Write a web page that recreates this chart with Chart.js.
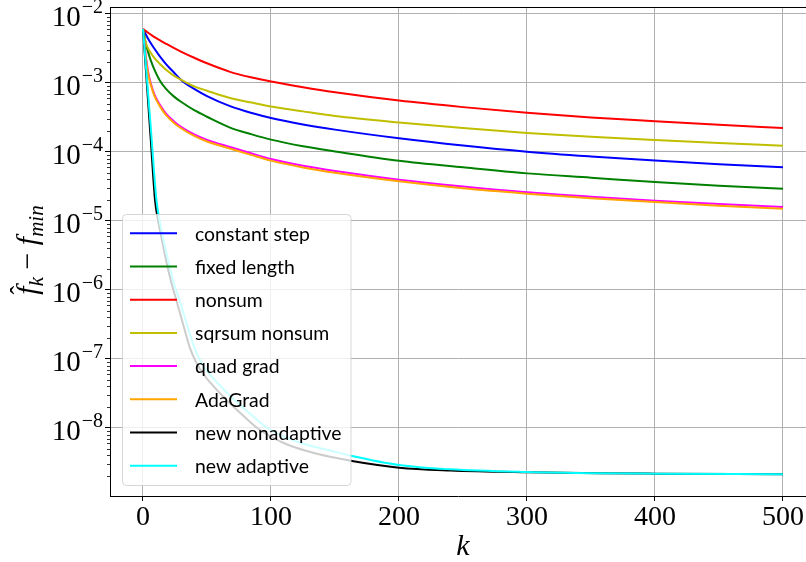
<!DOCTYPE html>
<html><head><meta charset="utf-8">
<script src="https://cdn.jsdelivr.net/npm/chart.js@4.4.0/dist/chart.umd.min.js"></script>
<style>html,body{margin:0;padding:0;background:#fff;}#wrap{width:806px;height:562px;}</style>
</head><body><div id="wrap"><canvas id="c" width="806" height="562"></canvas></div>
<script>
// ---- data ----
const kSlow = [0,2,4,6,9,13,18,24,30,40,50,68,85,100,125,150,200,250,300,350,400,450,500];
const constantStep = [6.07e-3,5.13e-3,4.39e-3,3.8e-3,3.13e-3,2.45e-3,1.88e-3,1.43e-3,1.1e-3,8.22e-4,6.46e-4,4.62e-4,3.67e-4,3.11e-4,2.51e-4,2.11e-4,1.58e-4,1.24e-4,1.01e-4,8.61e-5,7.5e-5,6.65e-5,6.0e-5];
const fixedLength = [6.07e-3,3.89e-3,2.8e-3,2.15e-3,1.55e-3,1.1e-3,8.2e-4,6.4e-4,5.3e-4,4.03e-4,3.24e-4,2.26e-4,1.8e-4,1.51e-4,1.21e-4,1.02e-4,7.48e-5,6.0e-5,4.9e-5,4.24e-5,3.67e-5,3.25e-5,2.94e-5];
const nonsum = [6.07e-3,5.69e-3,5.35e-3,5.04e-3,4.62e-3,4.17e-3,3.7e-3,3.22e-3,2.83e-3,2.32e-3,1.93e-3,1.45e-3,1.2e-3,1.05e-3,8.67e-4,7.33e-4,5.56e-4,4.47e-4,3.7e-4,3.16e-4,2.79e-4,2.48e-4,2.23e-4];
const sqrsumNonsum = [6.07e-3,3.89e-3,3.16e-3,2.75e-3,2.29e-3,1.91e-3,1.55e-3,1.28e-3,1.11e-3,8.95e-4,7.73e-4,6.07e-4,5.2e-4,4.58e-4,3.88e-4,3.33e-4,2.68e-4,2.23e-4,1.89e-4,1.66e-4,1.49e-4,1.35e-4,1.23e-4];
const quadGrad = [6.07e-3,2.6e-3,1.45e-3,1.0e-3,6.8e-4,4.9e-4,3.6e-4,2.8e-4,2.3e-4,1.8e-4,1.5e-4,1.18e-4,9.5e-5,7.9e-5,6.3e-5,5.3e-5,3.97e-5,3.15e-5,2.6e-5,2.25e-5,1.97e-5,1.76e-5,1.6e-5];
const adaGrad = [6.07e-3,2.48e-3,1.37e-3,9.5e-4,6.46e-4,4.66e-4,3.42e-4,2.66e-4,2.19e-4,1.71e-4,1.42e-4,1.12e-4,9.0e-5,7.5e-5,5.97e-5,5.0e-5,3.76e-5,2.98e-5,2.49e-5,2.14e-5,1.88e-5,1.67e-5,1.51e-5];
const kNonadaptive = [0,3,6,9.4,11.7,14,18,22,26,29.3,32.8,36.7,41.4,46.9,53.1,64.8,77.3,89.8,111.7,136.7,163.3,200,240,300,357,400,500];
const newNonadaptive = [6.07e-3,9.77e-4,1.57e-4,2.01e-5,1.03e-5,6.27e-6,2.72e-6,1.31e-6,7.16e-7,4.35e-7,2.55e-7,1.44e-7,9.06e-8,6.17e-8,4.42e-8,2.59e-8,1.57e-8,9.84e-9,5.86e-9,4.2e-9,3.33e-9,2.66e-9,2.42e-9,2.28e-9,2.21e-9,2.18e-9,2.13e-9];
const kAdaptive = [0,3,6,10.5,12.9,15.2,19.5,23.8,28.5,32,35.9,40.2,45.3,51.6,58.6,71.1,84.4,97.7,121.1,146.1,163.3,200,240,300,357,400,500];
const newAdaptive = [6.07e-3,1.2e-3,2.36e-4,2.01e-5,1.03e-5,6.27e-6,2.72e-6,1.31e-6,7.16e-7,4.35e-7,2.55e-7,1.44e-7,9.06e-8,6.17e-8,4.42e-8,2.59e-8,1.57e-8,9.84e-9,6.27e-9,4.72e-9,3.93e-9,2.91e-9,2.52e-9,2.3e-9,2.21e-9,2.18e-9,2.13e-9];
const seriesNames = ['constant step','fixed length','nonsum','sqrsum nonsum','quad grad','AdaGrad','new nonadaptive','new adaptive'];
const xTickValues = [0,100,200,300,400,500];
const yTickExponents = [-8,-7,-6,-5,-4,-3,-2];

// ---- styles ----
const seriesColors = ['#0000ff','#008000','#ff0000','#bfbf00','#ff00ff','#ffa500','#000000','#00ffff'];
const seriesX = [kSlow,kSlow,kSlow,kSlow,kSlow,kSlow,kNonadaptive,kAdaptive];
const seriesY = [constantStep,fixedLength,nonsum,sqrsumNonsum,quadGrad,adaGrad,newNonadaptive,newAdaptive];
const SERIF = '"Liberation Serif", "DejaVu Serif", serif';
const SANS = 'Lato, "DejaVu Sans", sans-serif';

const datasets = seriesNames.map((name,i)=>({
  label: name,
  data: seriesX[i].map((k,j)=>({x:k,y:seriesY[i][j]})),
  borderColor: seriesColors[i],
  backgroundColor: seriesColors[i],
  borderWidth: 2,
  pointRadius: 0,
  fill: false,
  cubicInterpolationMode: 'monotone',
  order: seriesNames.length - i
}));

function drawRich(ctx, segs, x0, y0, align){
  let w = 0;
  segs.forEach(s=>{ctx.font=s.font; s.w=ctx.measureText(s.t).width; w += s.w;});
  let x = align==='center' ? x0 - w/2 : (align==='right' ? x0 - w : x0);
  const pos = [];
  segs.forEach(s=>{ctx.font=s.font; ctx.fillText(s.t, x, y0 + (s.dy||0)); pos.push(x); x += s.w;});
  return pos;
}

const decor = {
  id: 'decor',
  afterDraw(chart){
    const ctx = chart.ctx, a = chart.chartArea, ys = chart.scales.y;
    ctx.save();
    // top spine
    ctx.strokeStyle = '#000'; ctx.lineWidth = 1;
    ctx.beginPath(); ctx.moveTo(a.left, a.top+0.5); ctx.lineTo(a.right, a.top+0.5); ctx.stroke();
    // minor ticks on y
    ctx.lineWidth = 0.8;
    for (let e=-10; e<=-1; e++){
      for (let m=2; m<=9; m++){
        const v = m*Math.pow(10,e);
        if (v < ys.min || v > ys.max) continue;
        const p = Math.round(ys.getPixelForValue(v))+0.5;
        ctx.beginPath(); ctx.moveTo(a.left-3, p); ctx.lineTo(a.left, p); ctx.stroke();
      }
    }
    // y tick labels 10^e
    ctx.fillStyle = '#000'; ctx.textBaseline = 'alphabetic';
    yTickExponents.forEach(e=>{
      const p = ys.getPixelForValue(Math.pow(10,e));
      ctx.font = '20px ' + SERIF;
      const expTxt = '\u2212' + Math.abs(e);
      const ew = ctx.measureText(expTxt).width;
      ctx.textAlign = 'left';
      ctx.fillText(expTxt, 103 - ew, p - 1);
      ctx.font = '29px ' + SERIF;
      ctx.textAlign = 'right';
      ctx.fillText('10', 103 - ew - 1, p + 12);
    });
    ctx.textAlign = 'left';
    // x label
    ctx.font = 'italic 30px ' + SERIF;
    ctx.textAlign = 'center';
    ctx.fillText('k', 463, 555);
    // y label (rotated)
    ctx.save();
    ctx.translate(37, 250);
    ctx.rotate(-Math.PI/2);
    ctx.textAlign = 'left';
    const segs = [
      {t:'f', font:'italic 30px '+SERIF},
      {t:'k', font:'italic 21px '+SERIF, dy:6},
      {t:' \u2212 ', font:'30px '+SERIF},
      {t:'f', font:'italic 30px '+SERIF},
      {t:'min', font:'italic 21px '+SERIF, dy:6}
    ];
    const pos = drawRich(ctx, segs, 0, 0, 'center');
    ctx.font = '26px ' + SERIF;
    ctx.textAlign = 'center';
    ctx.fillText('\u02C6', pos[0] + segs[0].w*0.55, -9);
    ctx.restore();
    // legend
    const lx = 122.5, ly = 214.5, lw = 228.5, lh = 271, r = 4;
    ctx.fillStyle = 'rgba(255,255,255,0.8)';
    ctx.strokeStyle = 'rgba(204,204,204,0.8)';
    ctx.lineWidth = 1;
    ctx.beginPath();
    ctx.moveTo(lx+r, ly); ctx.lineTo(lx+lw-r, ly); ctx.quadraticCurveTo(lx+lw, ly, lx+lw, ly+r);
    ctx.lineTo(lx+lw, ly+lh-r); ctx.quadraticCurveTo(lx+lw, ly+lh, lx+lw-r, ly+lh);
    ctx.lineTo(lx+r, ly+lh); ctx.quadraticCurveTo(lx, ly+lh, lx, ly+lh-r);
    ctx.lineTo(lx, ly+r); ctx.quadraticCurveTo(lx, ly, lx+r, ly);
    ctx.closePath(); ctx.fill(); ctx.stroke();
    ctx.font = '20px ' + SANS;
    const mw = ctx.measureText('new nonadaptive').width;
    const fs = Math.max(16, Math.min(23, 20 * 146.7 / mw));
    ctx.font = fs.toFixed(1) + 'px ' + SANS;
    ctx.textAlign = 'left'; ctx.textBaseline = 'middle';
    chart.data.datasets.forEach((d,i)=>{
      const cy = 233.3 + 33.2*i;
      ctx.strokeStyle = d.borderColor; ctx.lineWidth = 2;
      ctx.beginPath(); ctx.moveTo(130, cy); ctx.lineTo(177, cy); ctx.stroke();
      ctx.fillStyle = '#000';
      ctx.fillText(d.label, 195, cy + 1);
    });
    ctx.restore();
  }
};

new Chart(document.getElementById('c'), {
  type: 'line',
  data: { datasets },
  options: {
    responsive: false, animation: false, devicePixelRatio: 1,
    layout: { padding: { top: 7, right: 0, left: 0, bottom: 0 } },
    plugins: { legend: { display: false }, tooltip: { enabled: false }, title: { display: false } },
    scales: {
      x: {
        type: 'linear', min: -25.78, max: 517.97,
        afterBuildTicks: s => { s.ticks = xTickValues.map(v => ({ value: v })); },
        afterFit: s => { s.height = 66; },
        grid: { color: '#b0b0b0', lineWidth: 1, tickColor: '#000', tickLength: 5 },
        border: { color: '#000', width: 1 },
        ticks: { font: { family: SERIF, size: 28 }, color: '#000', padding: 0, maxRotation: 0, autoSkip: false }
      },
      y: {
        type: 'logarithmic', min: Math.pow(10, -8.9855), max: Math.pow(10, -1.8986),
        afterBuildTicks: s => { s.ticks = yTickExponents.map(e => ({ value: Math.pow(10, e), major: true })); },
        afterFit: s => { s.width = 110; },
        grid: { color: '#b0b0b0', lineWidth: 1, tickColor: '#000', tickLength: 5 },
        border: { color: '#000', width: 1 },
        ticks: { display: false }
      }
    }
  },
  plugins: [decor]
});
</script></body></html>
